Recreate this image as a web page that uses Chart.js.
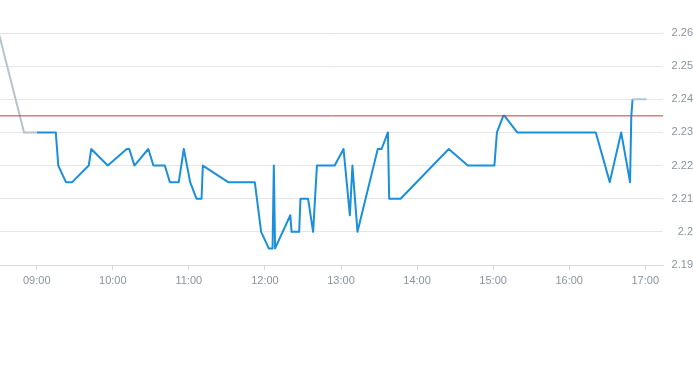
<!DOCTYPE html>
<html>
<head>
<meta charset="utf-8">
<script src="https://cdn.jsdelivr.net/npm/chart.js@4"></script>
<style>
html,body{margin:0;padding:0;background:#fff;}
#wrap{width:693px;height:365px;position:relative;}
</style>
</head>
<body>
<div id="wrap"><canvas id="c" width="693" height="365"></canvas></div>
<script>
// ---- data ----
const preTimes = ["08:30","08:50","09:00"];
const preValues = [2.26, 2.23, 2.23];

const times = ["09:00","09:15","09:17","09:23","09:28","09:41","09:43","09:56","10:11","10:13",
  "10:17","10:28","10:32","10:41","10:45","10:52","10:56","11:01","11:06","11:10",
  "11:11","11:31","11:52","11:57","12:03","12:06","12:07","12:08","12:20","12:21",
  "12:27","12:28","12:34","12:38","12:41","12:55","13:02","13:07","13:09","13:13",
  "13:29","13:32","13:37","13:38","13:47","14:25","14:40","15:01","15:03","15:08",
  "15:09","15:19","16:21","16:32","16:41","16:48","16:49","16:50"];
const prices = [2.23,2.23,2.22,2.215,2.215,2.22,2.225,2.22,2.225,2.225,
  2.22,2.225,2.22,2.22,2.215,2.215,2.225,2.215,2.21,2.21,
  2.22,2.215,2.215,2.20,2.195,2.195,2.22,2.195,2.205,2.20,
  2.20,2.21,2.21,2.20,2.22,2.22,2.225,2.205,2.22,2.20,
  2.225,2.225,2.23,2.21,2.21,2.225,2.22,2.22,2.23,2.235,
  2.235,2.23,2.23,2.215,2.23,2.215,2.235,2.24];

const postTimes = ["16:50","17:01"];
const postValues = [2.24, 2.24];

const prevClose = 2.235;
const xTickLabels = ["09:00","10:00","11:00","12:00","13:00","14:00","15:00","16:00","17:00"];
const yTickValues = [2.19,2.2,2.21,2.22,2.23,2.24,2.25,2.26];
const xRange = ["08:31","17:14"];

// ---- helpers ----
const toMin = s => { const [h,m] = s.split(":").map(Number); return h*60+m; };
const fmt = v => { const h = Math.floor(v/60), m = Math.round(v%60); return String(h).padStart(2,"0")+":"+String(m).padStart(2,"0"); };
const pts = (t, v) => t.map((s,i) => ({x: toMin(s), y: v[i]}));

const xMin = toMin(xRange[0]), xMax = toMin(xRange[1]);
const labelColor = "#8a939c";
const gridColor = "#e6e6e6";

new Chart(document.getElementById("c"), {
  type: "line",
  data: {
    datasets: [
      { data: [{x:xMin,y:prevClose},{x:xMax,y:prevClose}], borderColor: "#cc3a3a", borderWidth: 1, pointRadius: 0, tension: 0 },
      { data: pts(preTimes, preValues), borderColor: "#b4c4cc", borderWidth: 2, pointRadius: 0, tension: 0 },
      { data: pts(postTimes, postValues), borderColor: "#a9c8d8", borderWidth: 2, pointRadius: 0, tension: 0 },
      { data: pts(times, prices), borderColor: "#1a8fdc", borderWidth: 2, pointRadius: 0, tension: 0, borderJoinStyle: "round" }
    ]
  },
  options: {
    responsive: false,
    animation: false,
    events: [],
    layout: { padding: { top: 33, left: 0, right: 0, bottom: 0 } },
    plugins: { legend: { display: false }, tooltip: { enabled: false } },
    scales: {
      x: {
        type: "linear",
        min: xMin, max: xMax,
        afterBuildTicks: s => { s.ticks = xTickLabels.map(l => ({value: toMin(l)})); },
        afterFit: s => { s.height = 100; },
        grid: { drawOnChartArea: false, drawTicks: true, tickLength: 5, color: "#d5d9dd" },
        border: { display: true, color: "#d5d9dd" },
        ticks: {
          color: labelColor, padding: 4, maxRotation: 0, autoSkip: false,
          font: { family: "'Liberation Sans', Arial, sans-serif", size: 11 },
          callback: v => fmt(v)
        }
      },
      y: {
        position: "right",
        min: 2.19, max: 2.26,
        afterBuildTicks: s => { s.ticks = yTickValues.map(v => ({value: v})); },
        afterFit: s => { s.width = 30; },
        grid: { color: gridColor, drawTicks: false },
        border: { display: false },
        ticks: {
          color: labelColor, padding: 9, crossAlign: "far",
          font: { family: "'Liberation Sans', Arial, sans-serif", size: 11 },
          callback: v => String(Number(v.toFixed(2)))
        }
      }
    }
  }
});
</script>
</body>
</html>
